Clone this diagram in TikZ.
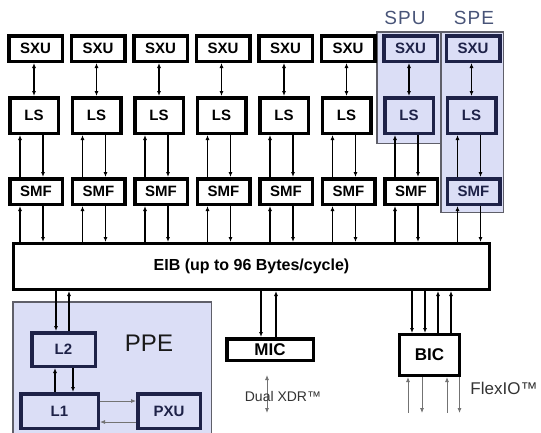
\documentclass[tikz,border=0pt]{standalone}
\usepackage{fontspec}
\setmainfont{Liberation Sans}
\usetikzlibrary{arrows.meta,calc}
\definecolor{lav}{RGB}{219,222,246}
\definecolor{navy}{RGB}{30,34,72}
\definecolor{slate}{RGB}{72,84,120}
\definecolor{rim}{RGB}{95,95,105}

\begin{document}
\begin{tikzpicture}[x=1pt,y=-1pt,>={Latex[length=5pt,width=4pt]},
    every node/.style={align=center,inner sep=0pt},
    unit/.style={draw,line width=3.5pt,fill=white,font=\bfseries\fontsize{15}{17}\selectfont},
    spu/.style={unit,draw=navy,fill=lav,text=navy},
    region/.style={draw=rim,line width=1.5pt,fill=lav},
    link/.style={line width=1.5pt},
    io/.style={line width=0.8pt,draw=black!55}]
  \useasboundingbox (0,0) rectangle (541,432);
  % shaded groups
  \node[region,minimum width=63.5,minimum height=111.5] (spu) at (408.5,87.5) {};
  \node[region,minimum width=62.5,minimum height=180.5] (spe) at (472,122) {};
  \node[region,minimum width=198.5,minimum height=142.5] (ppe) at (112,373) {};
  \node[text=slate,font=\fontsize{19}{22}\selectfont\addfontfeature{LetterSpace=6}] (spulbl) at (405,18) {SPU};
  \node[text=slate,font=\fontsize{19}{22}\selectfont\addfontfeature{LetterSpace=6}] (spelbl) at (474,18) {SPE};
  % eight SPE columns
  \foreach \i/\up/\dn in {0/unit/unit,1/unit/unit,2/unit/unit,3/unit/unit,4/unit/unit,5/unit/unit,6/spu/unit,7/spu/spu}{
    \pgfmathsetmacro{\x}{7+62.5*\i}
    \node[\up,minimum width=53.5,minimum height=25.5] (sxu\i) at (\x+28.5,48.5) {SXU};
    \node[\up,minimum width=48.5,minimum height=35.5] (ls\i) at (\x+27,115.5) {LS};
    \node[\dn,minimum width=52.5,minimum height=25.5] (smf\i) at (\x+29,191.5) {SMF};
  }
  \node[unit,line width=3pt,minimum width=476,minimum height=46,font=\bfseries\fontsize{16}{19}\selectfont] (eib) at (251.5,266.5) {EIB (up to 96 Bytes/cycle)};
  \foreach \i in {0,...,7}{
    \draw[<->,link] (ls\i.north) -- (ls\i.north |- sxu\i.south);
    \draw[<-,link] ($(ls\i.south)+(-14,0)$) -- ($(ls\i.south |- smf\i.north)+(-14,0)$);
    \draw[->,link] ($(ls\i.south)+(9,0)$) -- ($(ls\i.south |- smf\i.north)+(9,0)$);
    \draw[<-,link] ($(ls\i.south |- smf\i.south)+(-14,0)$) -- ($(ls\i.south |- eib.north)+(-14,0)$);
    \draw[->,link] ($(ls\i.south |- smf\i.south)+(9,0)$) -- ($(ls\i.south |- eib.north)+(9,0)$);
  }
  % PPE
  \node[text=black!90,font=\fontsize{24}{28}\selectfont] (ppelbl) at (149,343) {PPE};
  \node[spu,minimum width=63.5,minimum height=33.5] (l2) at (63.5,349.5) {L2};
  \node[spu,minimum width=77.5,minimum height=34.5] (l1) at (59.5,411) {L1};
  \node[spu,minimum width=62.5,minimum height=34.5] (pxu) at (169,411) {PXU};
  \draw[->,link] ($(eib.south -| l2.north)+(-7.5,0)$) -- ($(l2.north)+(-7.5,0)$);
  \draw[<-,link] ($(eib.south -| l2.north)+(5.5,0)$) -- ($(l2.north)+(5.5,0)$);
  \draw[<-,link] ($(l2.south)+(-8.5,0)$) -- ($(l2.south |- l1.north)+(-8.5,0)$);
  \draw[->,link] ($(l2.south)+(9.5,0)$) -- ($(l2.south |- l1.north)+(9.5,0)$);
  \draw[->,io] ($(l1.east)+(0,-10)$) -- ($(l1.east -| pxu.west)+(0,-10)$);
  \draw[<-,io] ($(l1.east)+(0,11)$) -- ($(l1.east -| pxu.west)+(0,11)$);
  % MIC
  \node[unit,minimum width=86.5,minimum height=21.5,font=\bfseries\fontsize{17}{20}\selectfont] (mic) at (270,349.5) {MIC};
  \draw[->,link] ($(eib.south -| mic.north)+(-9,0)$) -- ($(mic.north)+(-9,0)$);
  \draw[<-,link] ($(eib.south -| mic.north)+(6,0)$) -- ($(mic.north)+(6,0)$);
  \coordinate (xdrtop) at (267,375);
  \coordinate (xdrbot) at (267,413);
  \draw[<->,io] (xdrtop) -- (xdrbot);
  \node[text=black!80,font=\fontsize{14}{16}\selectfont] (xdr) at (283,396) {Dual XDR™};
  % BIC
  \node[unit,line width=3pt,minimum width=60,minimum height=41,font=\bfseries\fontsize{17}{20}\selectfont] (bic) at (429.5,355) {BIC};
  \foreach \dx/\dir in {-17.5/->,-4.5/->,8.5/<-,21.5/<-}
    \draw[\dir,link] ($(eib.south -| bic.north)+(\dx,0)$) -- ($(bic.north)+(\dx,0)$);
  \coordinate (fio) at (429.5,413);
  \foreach \dx/\dir in {-21.5/<-,-7.5/->,17.5/<-,30/->}
    \draw[\dir,io] ($(bic.south)+(\dx,0)$) -- ($(fio)+(\dx,0)$);
  \node[text=black!80,font=\fontsize{17}{20}\selectfont] (flexio) at (504,388) {FlexIO™};
\end{tikzpicture}
\end{document}
